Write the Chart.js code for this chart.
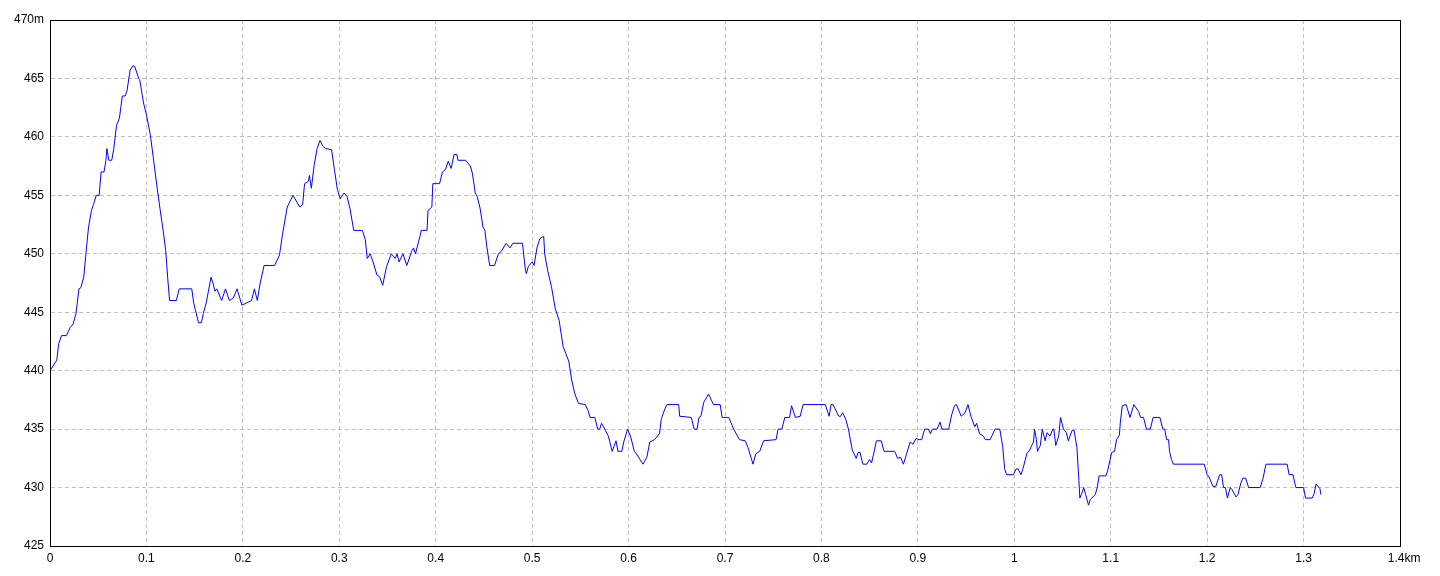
<!DOCTYPE html>
<html>
<head>
<meta charset="utf-8">
<script src="https://cdn.jsdelivr.net/npm/chart.js@4/dist/chart.umd.min.js"></script>
<style>
html,body{margin:0;padding:0;background:#fff;}
#wrap{width:1440px;height:576px;}
</style>
</head>
<body>
<div id="wrap"><canvas id="c" width="1440" height="576"></canvas></div>
<script>
const distKm = [
0.000,0.007,0.009,0.012,0.017,0.021,0.024,0.027,0.030,0.032,0.035,0.037,0.040,0.043,0.045,0.048,0.051,0.053,0.056,0.058,
0.059,0.061,0.064,0.066,0.069,0.072,0.075,0.078,0.080,0.083,0.086,0.088,0.092,0.093,0.097,0.100,0.104,0.107,0.111,0.114,
0.117,0.120,0.122,0.124,0.131,0.134,0.147,0.149,0.154,0.157,0.159,0.162,0.167,0.169,0.171,0.173,0.178,0.182,0.186,0.190,
0.194,0.199,0.204,0.209,0.212,0.215,0.218,0.222,0.233,0.238,0.241,0.246,0.252,0.259,0.262,0.264,0.268,0.269,0.271,0.274,
0.277,0.280,0.283,0.286,0.292,0.295,0.298,0.301,0.305,0.308,0.311,0.315,0.324,0.327,0.329,0.332,0.335,0.339,0.342,0.345,
0.349,0.354,0.358,0.360,0.362,0.366,0.370,0.375,0.377,0.379,0.384,0.385,0.391,0.392,0.396,0.397,0.404,0.407,0.410,0.413,
0.416,0.419,0.422,0.423,0.431,0.436,0.438,0.441,0.443,0.446,0.449,0.451,0.453,0.456,0.461,0.465,0.468,0.473,0.477,0.480,
0.490,0.493,0.494,0.496,0.500,0.502,0.505,0.508,0.512,0.513,0.516,0.520,0.524,0.528,0.532,0.538,0.541,0.544,0.548,0.555,
0.558,0.560,0.565,0.568,0.570,0.572,0.576,0.579,0.583,0.587,0.589,0.593,0.595,0.599,0.602,0.606,0.608,0.615,0.619,0.622,
0.627,0.632,0.634,0.638,0.640,0.652,0.653,0.665,0.668,0.671,0.673,0.675,0.678,0.683,0.688,0.695,0.697,0.704,0.709,0.715,
0.721,0.724,0.729,0.732,0.736,0.740,0.753,0.755,0.759,0.762,0.767,0.769,0.773,0.778,0.781,0.804,0.808,0.810,0.812,0.818,
0.820,0.822,0.825,0.828,0.830,0.832,0.836,0.838,0.840,0.843,0.847,0.850,0.852,0.855,0.857,0.862,0.865,0.876,0.879,0.882,
0.885,0.888,0.892,0.895,0.898,0.901,0.904,0.907,0.911,0.913,0.915,0.920,0.923,0.925,0.932,0.935,0.938,0.940,0.945,0.949,
0.952,0.955,0.959,0.961,0.964,0.968,0.970,0.975,0.980,0.985,0.988,0.990,0.992,0.999,1.002,1.004,1.007,1.009,1.013,1.016,
1.018,1.020,1.021,1.023,1.024,1.027,1.029,1.032,1.034,1.037,1.040,1.041,1.043,1.046,1.048,1.051,1.054,1.056,1.060,1.062,
1.065,1.067,1.068,1.070,1.072,1.074,1.077,1.079,1.084,1.086,1.088,1.095,1.097,1.101,1.104,1.106,1.109,1.110,1.112,1.116,
1.120,1.124,1.129,1.131,1.134,1.137,1.141,1.144,1.151,1.154,1.156,1.158,1.160,1.161,1.163,1.165,1.197,1.200,1.202,1.206,
1.209,1.213,1.215,1.217,1.219,1.221,1.224,1.226,1.230,1.232,1.235,1.237,1.240,1.243,1.255,1.258,1.261,1.283,1.285,1.289,
1.292,1.300,1.302,1.309,1.311,1.313,1.317,1.318
];
const elevM = [
440.0,440.9,442.3,443.0,443.0,443.7,444.0,444.9,447.0,447.1,448.0,449.8,452.3,453.7,454.2,455.0,455.0,457.0,457.0,458.0,
459.0,458.0,458.0,458.9,461.0,461.6,463.5,463.5,464.0,465.7,466.1,466.0,465.0,464.9,462.9,461.9,460.2,458.3,455.7,453.9,
452.2,450.3,448.0,446.0,446.0,447.0,447.0,445.8,444.1,444.1,444.9,445.8,448.0,447.5,446.8,447.0,446.0,447.0,446.0,446.2,
447.0,445.6,445.8,446.0,447.0,446.0,447.5,449.0,449.0,449.9,451.6,454.0,455.0,454.0,454.2,456.0,456.2,456.7,455.6,457.6,
459.0,459.7,459.2,459.0,458.9,457.2,455.5,454.7,455.2,454.9,453.9,452.0,452.0,451.2,449.6,450.0,449.3,448.2,448.0,447.3,
448.9,450.0,449.6,450.0,449.3,450.0,449.0,450.2,450.5,450.0,451.6,452.0,452.0,453.7,454.0,456.0,456.0,457.0,457.2,457.9,
457.3,458.5,458.5,458.0,458.0,457.5,456.9,455.2,454.9,453.9,452.3,452.0,450.6,449.0,449.0,450.0,450.2,450.9,450.5,450.9,
450.9,448.6,448.3,448.9,449.3,449.0,450.5,451.3,451.5,450.0,448.6,447.2,445.3,444.3,442.1,440.8,439.2,438.1,437.2,437.1,
436.6,436.0,436.0,435.0,435.0,435.5,434.9,434.4,433.1,434.0,433.1,433.1,433.9,435.0,434.4,433.1,432.9,432.0,432.6,433.9,
434.1,434.6,435.9,436.8,437.1,437.1,436.1,436.0,435.0,435.0,436.0,436.1,437.3,438.0,437.1,437.1,436.0,436.0,435.0,434.1,
434.0,433.4,432.0,432.9,433.1,434.0,434.1,435.0,435.0,436.0,436.0,437.0,436.0,436.1,437.1,437.1,436.1,437.1,437.1,436.1,
436.1,436.4,435.9,435.0,434.1,433.2,432.5,433.0,433.0,432.0,432.0,432.4,432.1,433.2,434.0,434.0,433.1,433.1,432.5,432.6,
432.0,432.8,433.9,433.7,434.2,434.1,434.1,435.0,435.0,434.6,435.0,435.0,435.6,435.0,435.0,436.2,437.0,437.1,436.1,436.4,
437.1,436.1,435.2,435.5,434.6,434.4,434.1,434.1,435.0,435.0,433.5,431.6,431.1,431.1,431.6,431.6,431.1,431.6,432.9,433.2,
433.6,433.9,435.0,434.1,433.1,433.6,435.0,434.0,434.7,434.4,435.0,435.0,433.6,434.4,436.0,435.0,434.7,434.0,434.9,434.9,
433.4,430.6,429.1,429.5,430.0,429.4,428.5,429.0,429.4,430.0,431.0,431.0,431.5,433.0,433.1,434.1,434.5,435.6,437.0,437.1,
436.0,437.1,436.5,436.0,436.0,435.0,435.0,436.0,436.0,435.0,435.0,434.1,434.1,433.1,432.4,432.0,432.0,431.1,430.9,430.1,
430.1,431.1,431.1,430.0,430.0,429.1,430.0,429.8,429.2,429.4,430.4,430.8,430.8,430.0,430.0,430.8,432.0,432.0,431.1,431.1,
430.0,430.0,429.1,429.1,429.5,430.3,429.9,429.4
];
const xTickMin = 0, xTickMax = 1.4, xTickStep = 0.1;
const yTickMin = 425, yTickMax = 470, yTickStep = 5;
const xUnit = 'km', yUnit = 'm';

const points = distKm.map((d, i) => ({x: d, y: elevM[i]}));

const frame = {
  id: 'frame',
  afterDraw(chart) {
    const {ctx, chartArea: a} = chart;
    ctx.save();
    ctx.strokeStyle = '#000';
    ctx.lineWidth = 1;
    ctx.strokeRect(Math.round(a.left) + 0.5, Math.round(a.top) + 0.5,
      Math.round(a.right - a.left), Math.round(a.bottom - a.top));
    ctx.restore();
  }
};

const tickFont = {family: '"Liberation Sans", Arial, sans-serif', size: 12};

new Chart(document.getElementById('c'), {
  type: 'line',
  data: {
    datasets: [{
      data: points,
      borderColor: '#0000ff',
      borderWidth: 1,
      pointRadius: 0,
      tension: 0,
      fill: false
    }]
  },
  options: {
    responsive: false,
    animation: false,
    events: [],
    layout: {padding: {top: 20, right: 40, left: 0, bottom: 0}},
    plugins: {legend: {display: false}, tooltip: {enabled: false}},
    scales: {
      x: {
        type: 'linear',
        min: xTickMin, max: xTickMax,
        afterFit(s) { s.height = 30; },
        ticks: {
          stepSize: xTickStep,
          color: '#000',
          font: tickFont,
          padding: 5,
          maxRotation: 0,
          autoSkip: false,
          callback(v) {
            const r = Math.round(v * 10) / 10;
            if (Math.abs(r - xTickMax) < 1e-9) return '\u2002\u2009' + r + xUnit;
            return String(r);
          }
        },
        grid: {color: '#c0c0c0', lineWidth: 1, drawTicks: false},
        border: {display: true, color: '#000', width: 1, dash: [4, 3]}
      },
      y: {
        type: 'linear',
        min: yTickMin, max: yTickMax,
        afterFit(s) { s.width = 50; },
        ticks: {
          stepSize: yTickStep,
          color: '#000',
          font: tickFont,
          padding: 6,
          callback(v) {
            return v === yTickMax ? v + yUnit : String(v);
          }
        },
        grid: {color: '#c0c0c0', lineWidth: 1, drawTicks: false},
        border: {display: true, color: '#000', width: 1, dash: [4, 3]}
      }
    }
  },
  plugins: [frame]
});
</script>
</body>
</html>
